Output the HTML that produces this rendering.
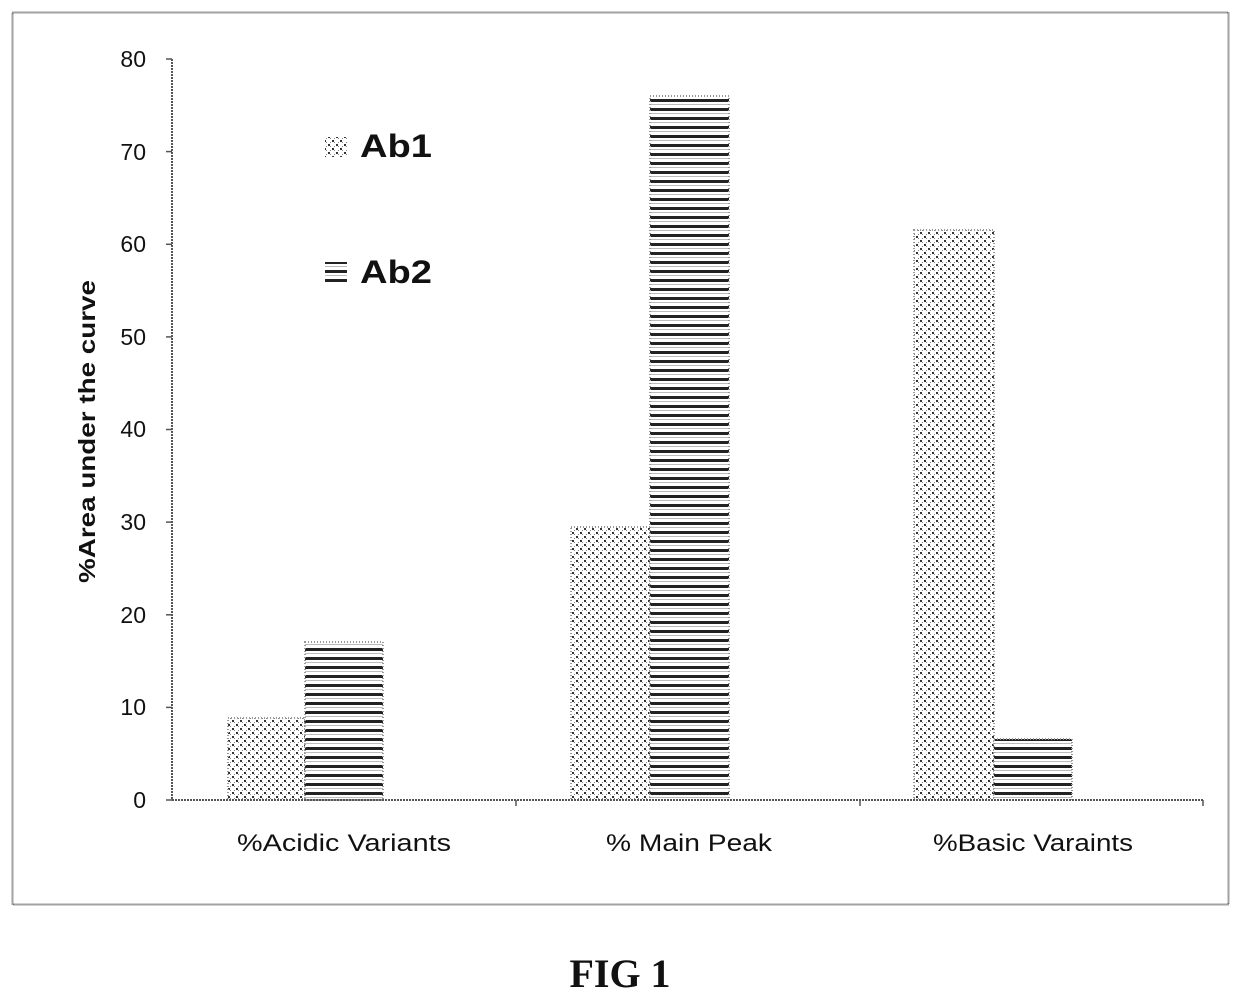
<!DOCTYPE html>
<html><head><style>
body{margin:0;background:#fff;width:1240px;height:1000px;overflow:hidden}
</style></head><body>
<svg width="1240" height="1000" xmlns="http://www.w3.org/2000/svg" font-family="Liberation Sans, sans-serif">
<defs>
<pattern id="dots" width="8" height="8" patternUnits="userSpaceOnUse">
<rect width="8" height="8" fill="#fff"/>
<rect x="0" y="0" width="2" height="2" fill="#333"/>
<rect x="4" y="4" width="2" height="2" fill="#333"/>
<rect x="2" y="2" width="1" height="1" fill="#888"/>
<rect x="6" y="6" width="1" height="1" fill="#888"/>
<rect x="6" y="2" width="1" height="1" fill="#888"/>
<rect x="2" y="6" width="1" height="1" fill="#888"/>
</pattern>
<pattern id="stripes" width="9" height="9" patternUnits="userSpaceOnUse">
<rect width="9" height="9" fill="#fff"/>
<rect x="0" y="0" width="9" height="3" fill="#222"/>
<rect x="0" y="5" width="9" height="1" fill="#bbb"/>
</pattern>
</defs>
<rect x="12.5" y="12.5" width="1216" height="892" fill="none" stroke="#444" stroke-width="2" stroke-dasharray="1,1"/>
<g fill="url(#dots)" stroke="#999" stroke-width="2" stroke-dasharray="1,2">
<rect x="228" y="718" width="77" height="82"/>
<rect x="571" y="527" width="79" height="273"/>
<rect x="914" y="230" width="80" height="570"/>
</g>
<g fill="url(#stripes)" stroke="#999" stroke-width="2" stroke-dasharray="1,2">
<rect x="305" y="642" width="78" height="158"/>
<rect x="650" y="96" width="79" height="704"/>
<rect x="994" y="739" width="78" height="61"/>
</g>
<g stroke="#555" stroke-width="2" stroke-dasharray="2,1">
<line x1="172" y1="59" x2="172" y2="800"/>
<line x1="172" y1="800" x2="1203" y2="800"/>
</g>
<g stroke="#555" stroke-width="1.5">
<line x1="166" y1="59" x2="172" y2="59"/><line x1="166" y1="151.6" x2="172" y2="151.6"/>
<line x1="166" y1="244.3" x2="172" y2="244.3"/><line x1="166" y1="336.9" x2="172" y2="336.9"/>
<line x1="166" y1="429.5" x2="172" y2="429.5"/><line x1="166" y1="522.1" x2="172" y2="522.1"/>
<line x1="166" y1="614.8" x2="172" y2="614.8"/><line x1="166" y1="707.4" x2="172" y2="707.4"/>
<line x1="166" y1="800" x2="172" y2="800"/>
<line x1="516" y1="800" x2="516" y2="806"/><line x1="860" y1="800" x2="860" y2="806"/><line x1="1203" y1="800" x2="1203" y2="806"/>
</g>
<g font-size="23" fill="#111" text-anchor="end">
<text x="146" y="67">80</text><text x="146" y="160">70</text><text x="146" y="252">60</text>
<text x="146" y="345">50</text><text x="146" y="437">40</text><text x="146" y="530">30</text>
<text x="146" y="623">20</text><text x="146" y="715">10</text><text x="146" y="808">0</text>
</g>
<g font-size="24" fill="#111">
<text x="237" y="851" textLength="214" lengthAdjust="spacingAndGlyphs">%Acidic Variants</text>
<text x="606" y="851" textLength="166" lengthAdjust="spacingAndGlyphs">% Main Peak</text>
<text x="933" y="851" textLength="200" lengthAdjust="spacingAndGlyphs">%Basic Varaints</text>
</g>
<text transform="translate(95,583) rotate(-90)" font-size="23" font-weight="bold" fill="#111" textLength="303" lengthAdjust="spacingAndGlyphs">%Area under the curve</text>
<rect x="325" y="137" width="22" height="20" fill="url(#dots)"/>
<rect x="325" y="262" width="22" height="20" fill="url(#stripes)"/>
<text x="360" y="157" font-size="32" font-weight="bold" fill="#111" textLength="72" lengthAdjust="spacingAndGlyphs">Ab1</text>
<text x="360" y="283" font-size="32" font-weight="bold" fill="#111" textLength="72" lengthAdjust="spacingAndGlyphs">Ab2</text>
<text x="620" y="987" font-family="Liberation Serif, serif" font-size="40" font-weight="bold" text-anchor="middle" fill="#111">FIG 1</text>
</svg>
</body></html>
